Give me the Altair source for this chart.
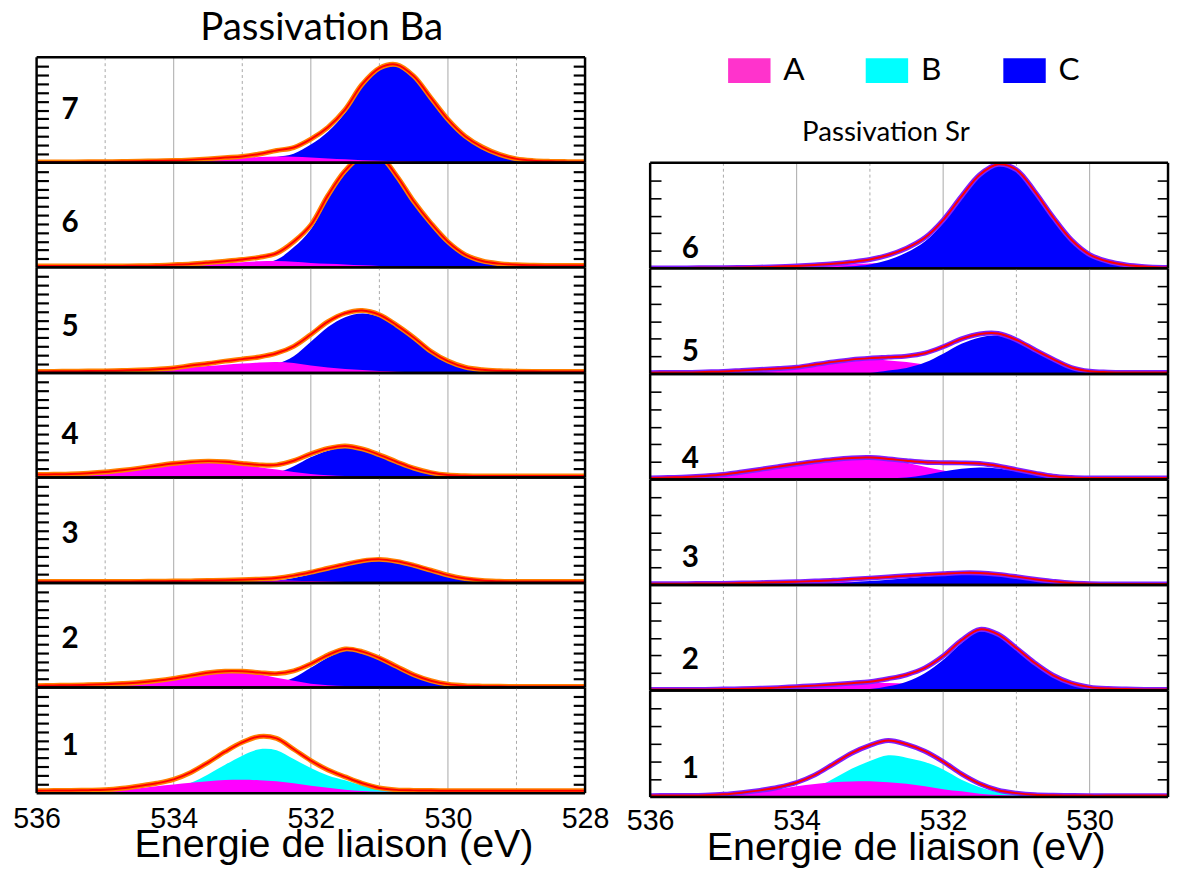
import altair as alt
import pandas as pd

# ---------------- data (heights, 0.25 eV steps) ----------------
E_BA = [536.0, 535.75, 535.5, 535.25, 535.0, 534.75, 534.5, 534.25, 534.0, 533.75, 533.5,
        533.25, 533.0, 532.75, 532.5, 532.25, 532.0, 531.75, 531.5, 531.25, 531.0, 530.75,
        530.5, 530.25, 530.0, 529.75, 529.5, 529.25, 529.0, 528.75, 528.5, 528.25, 528.0]
E_SR = [536.0, 535.75, 535.5, 535.25, 535.0, 534.75, 534.5, 534.25, 534.0, 533.75, 533.5,
        533.25, 533.0, 532.75, 532.5, 532.25, 532.0, 531.75, 531.5, 531.25, 531.0, 530.75,
        530.5, 530.25, 530.0, 529.75, 529.5, 529.25, 529.0, 528.75, 528.5]

# Passivation Ba
ba7_A = [0, 0, 0, 0.1, 0.3, 0.5, 0.8, 1.1, 1.5, 2.2, 3, 4, 5, 6, 6.5, 6.2, 5.5, 4.5, 3.5, 2.7,
         2, 1.5, 1, 0.6, 0.3, 0.1, 0, 0, 0, 0, 0, 0, 0]
ba7_C = [0.8, 0.8, 0.8, 0.9, 0.8, 0.8, 0.8, 0.9, 0.8, 0.8, 1, 1.3, 1.5, 3, 6, 9.3, 18.5, 31.5,
         50.5, 77, 94, 98, 87, 65.4, 43.7, 26.9, 16, 8.5, 4, 2.2, 1.5, 1.2, 1]
ba6_A = [0.5, 0.5, 0.5, 0.5, 0.5, 0.7, 1, 1.2, 1.5, 2.2, 3, 4.2, 5.3, 6.2, 6.5, 5.7, 4.5, 3.7,
         3, 2.2, 1.5, 1, 0.5, 0.2, 0, 0, 0, 0, 0, 0, 0, 0, 0]
ba6_C = [1, 1, 1, 1, 1, 0.8, 0.7, 0.8, 1.2, 1.3, 1.8, 2.1, 2.7, 4, 7.8, 20.3, 38.5, 69.3, 95,
         110.8, 111.5, 92, 66.5, 44.8, 26, 13, 6.5, 3.8, 2.6, 2.2, 2, 2, 2]
ba5_A = [0.8, 0.85, 1, 1.2, 1.5, 1.8, 2.2, 3, 4.5, 5.7, 7, 8.3, 9.5, 10.5, 11, 10, 7.5, 5.5, 4,
         3, 2, 1.3, 0.8, 0.4, 0, 0, 0, 0, 0, 0, 0, 0, 0]
ba5_C = [0.7, 0.75, 0.7, 0.7, 0.6, 0.7, 0.8, 0.8, 0.5, 1.8, 2.5, 3.7, 4.5, 5.7, 9, 17, 31.5,
         46.5, 56.5, 60.3, 57, 47.2, 35.2, 21.6, 12, 5.8, 3.2, 2.2, 1.8, 1.6, 1.5, 1.5, 1.5]
ba4_A = [2.5, 2.7, 3, 3.7, 4.5, 6, 8, 10.3, 12.5, 14.3, 15.5, 15, 13, 10.5, 8, 5.5, 3.5, 2.3,
         1.5, 0.9, 0.5, 0.2, 0, 0, 0, 0, 0, 0, 0, 0, 0, 0, 0]
ba4_C = [0.5, 0.5, 0.5, 0.6, 1, 1.3, 1.5, 1.7, 1.7, 1.5, 1.1, 1, 1.2, 2.3, 4.8, 11.5, 20.5,
         27.2, 30.5, 28.1, 22.5, 15.8, 9.5, 5, 2.5, 1.8, 1.5, 1.5, 1.5, 1.5, 1.5, 1.5, 1.5]
ba3_A = [1, 1, 1, 1, 1, 1.1, 1.2, 1.3, 1.5, 1.7, 2, 2.2, 2.5, 2.6, 2.5, 2.3, 2, 1.5, 1, 0.7,
         0.5, 0.2, 0, 0, 0, 0, 0, 0, 0, 0, 0, 0, 0]
ba3_C = [0.5, 0.5, 0.5, 0.5, 0.5, 0.5, 0.5, 0.6, 0.5, 0.5, 0.5, 0.7, 0.8, 1.4, 2.5, 5.2, 9,
         13.5, 18, 21.8, 23.5, 21.8, 18, 13, 8, 4.5, 2.5, 1.8, 1.5, 1.5, 1.5, 1.5, 1.5]
ba2_A = [1.5, 1.7, 2, 2.4, 3, 3.8, 5, 6.8, 9, 12, 14.5, 15.8, 15.5, 13.5, 10, 7, 4, 2.5, 1.5,
         0.9, 0.5, 0.2, 0, 0, 0, 0, 0, 0, 0, 0, 0, 0, 0]
ba2_C = [0.5, 0.5, 0.5, 0.4, 0.3, 0.3, 0.2, 0.2, 0.3, 0.2, 0.5, 0.8, 1, 1.7, 4.2, 10, 20, 30.5,
         37.7, 35.6, 29.5, 21.3, 13, 7, 3.5, 2, 1.5, 1.3, 1.2, 1.2, 1.2, 1.2, 1.2]
ba1_A = [1.5, 1.5, 1.6, 1.8, 2.3, 3.5, 5, 7, 8.8, 10.5, 12, 13.2, 13.5, 13, 12, 10, 7.5, 5.5,
         3.5, 2.3, 1.5, 1.4, 1.4, 1.4, 1.4, 1.4, 1.4, 1.4, 1.4, 1.4, 1.4, 1.4, 1.4]
ba1_B = [1, 1.1, 1.1, 1.2, 1.2, 1.5, 2.3, 3, 5.2, 10.5, 19, 28.8, 38, 44.5, 43.5, 34.5, 25.5,
         18, 13, 7.7, 3.8, 1.9, 1.4, 1.2, 1.1, 1.1, 1.1, 1.1, 1.1, 1.1, 1.1, 1.1, 1.1]

# Passivation Sr
sr6_A = [0, 0, 0, 0.1, 0.2, 0.4, 0.8, 1.3, 2, 2.8, 3.5, 4.3, 5, 5, 4.5, 3.8, 3, 2.2, 1.5, 1,
         0.5, 0.2, 0, 0, 0, 0, 0, 0, 0, 0, 0]
sr6_C = [0.5, 0.5, 0.5, 0.5, 0.5, 0.5, 0.4, 0.5, 0.5, 0.7, 1.2, 2.2, 4, 8.5, 16, 27.2, 46,
         70.8, 93.5, 104.5, 99.5, 77.8, 52, 29, 14, 7, 3.5, 1.8, 1, 0.7, 0.5]
sr5_A = [0.3, 0.4, 0.5, 0.8, 1, 2, 3, 4.5, 6, 8.5, 11.5, 14, 15, 13.5, 12, 9.5, 7, 5, 3.5, 2.3,
         1.5, 0.9, 0.5, 0.2, 0, 0, 0, 0, 0, 0, 0]
sr5_C = [1, 1, 1, 1.2, 1.5, 1.5, 1.5, 1, 0.7, 1, 0.7, 0.5, 1, 3.5, 6, 11.5, 20.5, 30.5, 37,
         38.7, 33, 23.6, 14.5, 6.3, 2.7, 1.8, 1.5, 1.5, 1.5, 1.5, 1.5]
sr4_A = [0.5, 1, 1.5, 2.5, 4, 6.5, 9.5, 12.3, 15, 17.5, 19.5, 20.7, 21, 19.5, 17, 13, 9, 6, 4,
         2.5, 1.5, 0.8, 0.5, 0.2, 0, 0, 0, 0, 0, 0, 0]
sr4_C = [1, 1, 1, 1, 1, 1, 0.7, 0.7, 0.7, 0.7, 0.8, 1.1, 1.2, 1.3, 2, 4.5, 8, 10.8, 12.2, 11.2,
         8.5, 5.7, 2.8, 1.8, 1.5, 1.5, 1.5, 1.5, 1.5, 1.5, 1.5]
sr3_A = [0, 0.1, 0.2, 0.3, 0.5, 0.7, 1, 1.5, 2, 2.5, 3, 3.2, 3, 2.8, 2.5, 2, 1.5, 1.1, 0.8, 0.5,
         0.3, 0.1, 0, 0, 0, 0, 0, 0, 0, 0, 0]
sr3_C = [1.2, 1.2, 1.2, 1.2, 1.1, 1.3, 1.4, 1.3, 1.3, 1.5, 1.8, 2.8, 4, 5.4, 6.9, 8.5, 10, 11.2,
         11.4, 10.3, 8.2, 5.7, 3.7, 2, 1.3, 1.1, 1.1, 1.1, 1.1, 1.1, 1.1]
sr2_A = [0.3, 0.4, 0.5, 0.7, 1, 1.4, 2, 2.8, 3.5, 4.5, 5.5, 6.5, 7.5, 7.7, 7, 5.5, 4, 3, 2, 1.3,
         0.8, 0.5, 0.3, 0.1, 0, 0, 0, 0, 0, 0, 0]
sr2_C = [0.7, 0.6, 0.5, 0.5, 0.5, 0.4, 0.3, 0.2, 0.5, 0.5, 0.7, 1, 1.5, 4.3, 9, 17.5, 31, 48, 60,
         55.7, 42.2, 27.5, 15.2, 7.4, 3.5, 2, 1.5, 1.2, 1, 1, 1]
sr1_A = [1.2, 1.3, 1.5, 2, 2.8, 4, 5.5, 8, 11, 13.2, 15, 15.8, 16, 15, 13.5, 11, 8, 5.8, 3.5, 2,
         1.4, 1.1, 1, 1, 1, 1, 1, 1, 1, 1, 1]
sr1_B = [0.3, 0.3, 0.2, 0, 0, 0.5, 1.3, 2, 3.8, 9.3, 18.5, 28.7, 36.5, 42.3, 40, 35.5, 28, 17.7,
         10, 5, 2.6, 1.2, 0.8, 0.6, 0.5, 0.5, 0.5, 0.5, 0.5, 0.5, 0.5]

BA_LABELS = ["7", "6", "5", "4", "3", "2", "1"]
SR_LABELS = ["6", "5", "4", "3", "2", "1"]
BA_COMPS = [{"A": ba7_A, "C": ba7_C}, {"A": ba6_A, "C": ba6_C},
            {"A": ba5_A, "C": ba5_C}, {"A": ba4_A, "C": ba4_C},
            {"A": ba3_A, "C": ba3_C}, {"A": ba2_A, "C": ba2_C},
            {"A": ba1_A, "B": ba1_B}]
SR_COMPS = [{"A": sr6_A, "C": sr6_C}, {"A": sr5_A, "C": sr5_C},
            {"A": sr4_A, "C": sr4_C}, {"A": sr3_A, "C": sr3_C},
            {"A": sr2_A, "C": sr2_C}, {"A": sr1_A, "B": sr1_B}]
BA_LABEL_Y = [53, 45, 46, 43, 50, 49, 48]
SR_LABEL_Y = [20, 22, 21, 27, 31, 28]

BA_TICKS = [536, 534, 532, 530, 528]
SR_TICKS = [536, 534, 532, 530]
GRID_SOLID = [534, 532, 530]
GRID_DASHED_BA = [535, 533, 531, 529]
GRID_DASHED_SR = [535, 533, 531]

LEG_CATS = ["A", "B", "C"]
LEG_COLORS = ["#ff33cc", "#00ffff", "#0000ff"]
FILL = {"A": "#ff00ff", "B": "#00ffff", "C": "#0000ff"}

# ---------------- layout ----------------
W_BA, W_SR = 556, 525
H_BA = [107, 106, 107, 106, 107, 106, 107]
H_SR = [107, 107, 107, 107, 107, 108]
XDOM_BA = [536, 528]
XDOM_SR = [536, 528.93]


def make_row(E, comps, order, xdom, W, H, nticks, tick_len, tick_w, label,
             label_x, label_y, data_color, bottom, xvalues, grid_dashed,
             label_pad, title_x, title_y):
    df = pd.DataFrame({"E": E})
    for k, v in comps.items():
        df[k] = v
    df["fit"] = df[list(comps)].sum(axis=1)

    xs = alt.Scale(domain=xdom, nice=False, zero=False)
    ys = alt.Scale(domain=[0, H], nice=False, zero=False)
    if bottom:
        xaxis = alt.Axis(values=xvalues, format="d", title="Energie de liaison (eV)",
                         labelFont="Liberation Sans", labelFontSize=29, labelColor="black",
                         labelFlush=False, labelOverlap=False, labelBound=False,
                         labelBaseline="alphabetic", labelPadding=label_pad,
                         ticks=False, tickSize=0, domain=False, grid=False,
                         titleFont="Liberation Sans", titleFontSize=40,
                         titleFontWeight="normal", titleColor="black",
                         titleX=title_x, titleY=title_y, titleAlign="center",
                         titleBaseline="alphabetic")
    else:
        xaxis = None
    X = alt.X("E:Q", scale=xs, axis=xaxis)

    def Y(field, axis=None):
        return alt.Y(field, scale=ys, axis=axis, stack=None)

    layers = []
    layers.append(alt.Chart(pd.DataFrame({"E": GRID_SOLID})).mark_rule(
        color="#a8a8a8", strokeWidth=1).encode(x=X))
    layers.append(alt.Chart(pd.DataFrame({"E": grid_dashed})).mark_rule(
        color="#a8a8a8", strokeWidth=1, strokeDash=[3, 3]).encode(x=X))
    base = alt.Chart(df)
    for c in order:
        if c in comps:
            layers.append(base.mark_area(color=FILL[c], interpolate="catmull-rom",
                                         clip=True, opacity=1).encode(x=X, y=Y(f"{c}:Q")))
    tvals = [H * k / nticks for k in range(1, nticks)]
    tick_common = dict(values=tvals, labels=False, domain=False, grid=False, ticks=True,
                       tickSize=tick_len, tickWidth=tick_w, tickColor="black", title=None)
    layers.append(base.mark_line(color=data_color, strokeWidth=5, interpolate="catmull-rom",
                                 clip=True).encode(
        x=X, y=Y("fit:Q", alt.Axis(orient="left", offset=-W, **tick_common))))
    layers.append(base.mark_line(color="#ff0000", strokeWidth=2, interpolate="catmull-rom",
                                 clip=True).encode(
        x=X, y=Y("fit:Q", alt.Axis(orient="right", offset=-W, **tick_common))))
    lab = pd.DataFrame({"E": [label_x], "fit": [label_y], "t": [label]})
    layers.append(alt.Chart(lab).mark_text(font="Lato", fontWeight="bold", fontSize=30,
                                           color="black", align="center", baseline="middle"
                                           ).encode(x=X, y=Y("fit:Q"), text="t:N"))
    # frame
    layers.append(alt.Chart(pd.DataFrame({"E": xdom})).mark_rule(
        color="black", strokeWidth=2.5).encode(x=X))
    layers.append(alt.Chart(pd.DataFrame({"fit": [0, H]})).mark_rule(
        color="black", strokeWidth=2.5).encode(y=Y("fit:Q")))
    return alt.layer(*layers).resolve_axis(y="independent").properties(width=W, height=H)


ba_rows = []
for i, (lab, comps) in enumerate(zip(BA_LABELS, BA_COMPS)):
    ba_rows.append(make_row(E_BA, comps, ["C", "B", "A"], XDOM_BA, W_BA, H_BA[i], 12, 12, 2.2,
                            lab, 535.51, BA_LABEL_Y[i], "#ff8000", i == len(BA_LABELS) - 1,
                            BA_TICKS, GRID_DASHED_BA, 35, 301, 64))
sr_rows = []
for i, (lab, comps) in enumerate(zip(SR_LABELS, SR_COMPS)):
    sr_rows.append(make_row(E_SR, comps, ["B", "A", "C"], XDOM_SR, W_SR, H_SR[i], 6, 11, 1.6,
                            lab, 535.45, SR_LABEL_Y[i], "#7f1fff", i == len(SR_LABELS) - 1,
                            SR_TICKS, GRID_DASHED_SR, 33, 259, 63))

ba_col = alt.vconcat(*ba_rows, spacing=0, bounds="flush").properties(
    title=alt.TitleParams("Passivation Ba", font="Lato", fontSize=39, fontWeight="normal",
                          color="black", anchor="middle", dx=11, offset=8))

sr_block = alt.vconcat(*sr_rows, spacing=0, bounds="flush").properties(
    title=alt.TitleParams("Passivation Sr", font="Lato", fontSize=28, fontWeight="normal",
                          color="black", anchor="middle", dx=-12, offset=15))

leg_df = pd.DataFrame({"cat": LEG_CATS})
lx = alt.X("cat:N", scale=alt.Scale(type="band", domain=LEG_CATS, paddingInner=0,
                                    paddingOuter=0.3817, align=0.289), axis=None)
leg_sw = alt.Chart(leg_df).mark_point(
    shape="M-1,-0.58L1,-0.58L1,0.58L-1,0.58Z", size=1849, filled=True, opacity=1,
    strokeWidth=0).encode(
    x=lx, color=alt.Color("cat:N", scale=alt.Scale(domain=LEG_CATS, range=LEG_COLORS),
                          legend=None))
leg_tx = alt.Chart(leg_df).mark_text(align="left", baseline="middle", dx=34.5, fontSize=32,
                                     font="Lato", color="black").encode(x=lx, text="cat:N")
legend = alt.layer(leg_sw, leg_tx).properties(width=W_SR, height=27)

sr_col = alt.vconcat(legend, sr_block, spacing=32)

chart = alt.hconcat(ba_col, sr_col, spacing=16).properties(
    padding={"left": 4, "top": -5, "right": 0, "bottom": 0}
).configure_view(strokeWidth=0)

chart.save("out.html", embed_options={"renderer": "svg", "actions": False})
